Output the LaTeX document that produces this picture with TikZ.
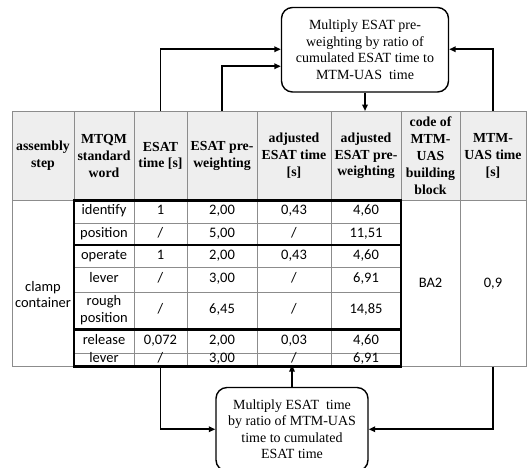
\documentclass[tikz,border=0pt]{standalone}
\usepackage{fontspec}
\setmainfont{Liberation Serif}
\newfontfamily\calib{Carlito}
\usetikzlibrary{arrows.meta}
\definecolor{gridgray}{RGB}{140,140,140}
\definecolor{headfill}{RGB}{238,238,238}
\newcommand\drow[7]{%
  \node[cell] (r#1a) at (104,#2) {\strut#3};
  \node[cell] (r#1b) at (160.5,#2) {\strut#4};
  \node[cell] (r#1c) at (222,#2) {\strut#5};
  \node[cell] (r#1d) at (294,#2) {\strut#6};
  \node[cell] (r#1e) at (366,#2) {\strut#7};
}
\begin{document}
\begin{tikzpicture}[x=1pt,y=-1pt,
  hdr/.style={font=\bfseries\fontsize{13.8}{16.8}\selectfont, align=center, inner sep=0pt},
  cell/.style={font=\calib\fontsize{14.5}{16.5}\selectfont, align=center, inner sep=0pt},
  box/.style={draw, rounded corners=11pt, line width=1.4pt, align=center,
              font=\fontsize{14}{16.6}\selectfont, inner sep=0pt},
  arr/.style={line width=1.8pt, -{Triangle[length=6.5pt,width=5.5pt]}},
  gridline/.style={draw=gridgray, line width=0.8pt},
  heavy/.style={line width=2.8pt}]
\useasboundingbox (0,0) rectangle (529,467);
% table background and grid
\fill[headfill] (12,111) rectangle (526,200.5);
\draw[gridline] (12,111) rectangle (526,366.5);
\foreach \x in {74,134,187,257,331,401,460} \draw[gridline] (\x,111) -- (\x,366.5);
\draw[gridline] (12,200.5) -- (526,200.5);
\foreach \y in {223.5,267.5,292.5,353} \draw[gridline] (74,\y) -- (401,\y);
\draw[heavy] (74,200.5) rectangle (401,366.5);
\draw[heavy] (74,245) -- (401,245);
\draw[heavy] (74,329.5) -- (401,329.5);
\coordinate (ttop) at (0,111);
\coordinate (tbot) at (0,366.5);
% header
\node[hdr, minimum width=62pt, minimum height=89.5pt] (h1) at (43,155.75) {assembly\\step};
\node[hdr, minimum width=60pt, minimum height=89.5pt] (h2) at (104,155.75) {MTQM\\standard\\word};
\node[hdr, minimum width=53pt, minimum height=89.5pt] (h3) at (160.5,155.75) {ESAT\\time {[s]}};
\node[hdr, minimum width=70pt, minimum height=89.5pt] (h4) at (222,155.75) {ESAT pre-\\weighting};
\node[hdr, minimum width=74pt, minimum height=89.5pt] (h5) at (294,155.75) {adjusted\\ESAT time\\{[s]}};
\node[hdr, minimum width=70pt, minimum height=89.5pt] (h6) at (366,155.75) {adjusted\\ESAT pre-\\weighting};
\node[hdr, minimum width=59pt, minimum height=89.5pt] (h7) at (430.5,155.75) {code of\\MTM-\\UAS\\building\\block};
\node[hdr, minimum width=66pt, minimum height=89.5pt] (h8) at (493,155.75) {MTM-\\UAS time\\{[s]}};
% data
\drow{1}{211.5}{identify}{1}{2,00}{0,43}{4,60}
\drow{2}{233.75}{position}{/}{5,00}{/}{11,51}
\drow{3}{255.75}{operate}{1}{2,00}{0,43}{4,60}
\drow{4}{279.5}{lever}{/}{3,00}{/}{6,91}
\drow{5}{310.5}{rough\strut\\position\strut}{/}{6,45}{/}{14,85}
\drow{6}{340.75}{release}{0,072}{2,00}{0,03}{4,60}
\drow{7}{359.25}{lever}{/}{3,00}{/}{6,91}
\node[cell] (step) at (43,296) {clamp\strut\\container\strut};
\node[cell] (code) at (430.5,284) {\strut BA2};
\node[cell] (uas) at (493,284) {\strut 0,9};
% boxes
\node[box, minimum width=167pt, minimum height=84.5pt] (top) at (365,49.75)
  {Multiply ESAT pre-\\weighting by ratio of\\cumulated ESAT time to\\MTM-UAS\ \ time};
\node[box, minimum width=152pt, minimum height=83.5pt] (bot) at (292,429.25)
  {Multiply ESAT\ \ time\\by ratio of MTM-UAS\\time to cumulated\\ESAT time};
% connectors
\draw[arr] (h3.north) |- ([yshift=0.5pt]top.west);
\draw[arr] (h4.north) |- ([yshift=-16.5pt]top.west);
\draw[arr] (h8.north) |- ([yshift=0.5pt]top.east);
\draw[arr] (top.south) -- (top.south |- ttop);
\draw[arr] (h3 |- tbot) |- (bot.west);
\draw[arr] (h8 |- tbot) |- (bot.east);
\draw[arr] (bot.north) -- ([yshift=1.4pt]bot.north |- tbot);
\end{tikzpicture}
\end{document}
